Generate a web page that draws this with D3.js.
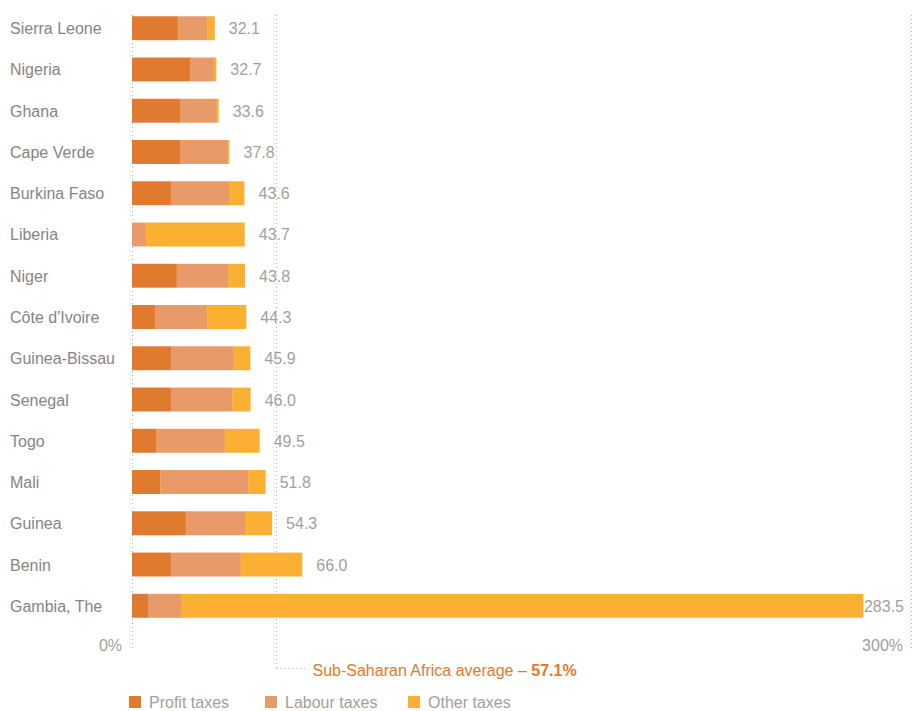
<!DOCTYPE html>
<html>
<head>
<meta charset="utf-8">
<script src="https://cdn.jsdelivr.net/npm/d3@7"></script>
<style>
  body { margin: 0; background: #fff; }
  text { font-family: "Liberation Sans", Arial, sans-serif; }
</style>
</head>
<body>
<svg id="chart" width="914" height="711"></svg>
<script>
const countries = ["Sierra Leone","Nigeria","Ghana","Cape Verde","Burkina Faso","Liberia","Niger","Côte d'Ivoire","Guinea-Bissau","Senegal","Togo","Mali","Guinea","Benin","Gambia, The"];
const profitTaxes = [17.8, 22.5, 18.6, 18.6, 15.1, 0.0, 17.4, 8.9, 15.1, 15.1, 9.3, 10.9, 20.9, 15.1, 6.2];
const labourTaxes = [11.3, 9.3, 14.3, 18.7, 22.5, 5.4, 19.8, 20.2, 24.4, 23.7, 26.7, 34.1, 22.9, 27.1, 12.8];
const otherTaxes  = [3.0, 0.9, 0.7, 0.5, 6.0, 38.3, 6.6, 15.2, 6.4, 7.2, 13.5, 6.8, 10.5, 23.8, 264.5];
const totals      = [32.1, 32.7, 33.6, 37.8, 43.6, 43.7, 43.8, 44.3, 45.9, 46.0, 49.5, 51.8, 54.3, 66.0, 283.5];
const seriesNames = ["Profit taxes", "Labour taxes", "Other taxes"];
const tickValues = [0, 300];
const tickLabels = ["0%", "300%"];
const averageValue = 57.1;
const averageLabel = "Sub-Saharan Africa average – ";
const averageLabelBold = "57.1%";

const colors = ["#e07a2e", "#e89b68", "#fbb034"];
const svg = d3.select("#chart");
const fs = 16;

const x = d3.scaleLinear().domain([0, 300]).range([132, 906]);
const y = d3.scaleBand().domain(countries).range([8, 626]).paddingInner(0.42).paddingOuter(0.2);

const rows = countries.map((c, i) => ({country: c, p: profitTaxes[i], l: labourTaxes[i], o: otherTaxes[i], total: totals[i]}));
const stacked = d3.stack().keys(["p", "l", "o"])(rows);

const dotted = "1,3";
const gridColor = "#b5b0ac";
const avgX = Math.round(x(averageValue)) - 2.5;

// gridlines
svg.append("line").attr("x1", x(0) + 0.5).attr("x2", x(0) + 0.5).attr("y1", 15).attr("y2", 651)
  .attr("stroke", gridColor).attr("stroke-dasharray", dotted);
svg.append("line").attr("x1", x(300) + 5.5).attr("x2", x(300) + 5.5).attr("y1", 15).attr("y2", 651)
  .attr("stroke", gridColor).attr("stroke-dasharray", dotted);
svg.append("line").attr("x1", avgX).attr("x2", avgX).attr("y1", 15).attr("y2", 668)
  .attr("stroke", gridColor).attr("stroke-dasharray", dotted);
svg.append("line").attr("x1", avgX).attr("x2", avgX + 32).attr("y1", 668.5).attr("y2", 668.5)
  .attr("stroke", gridColor).attr("stroke-dasharray", dotted);

// bars
svg.append("g").selectAll("g").data(stacked).join("g")
  .attr("fill", (d, i) => colors[i])
  .selectAll("rect").data(d => d).join("rect")
  .attr("x", d => x(d[0]))
  .attr("width", d => Math.max(0, x(d[1]) - x(d[0])))
  .attr("y", d => y(d.data.country))
  .attr("height", y.bandwidth());

// country labels
svg.append("g").selectAll("text").data(rows).join("text")
  .attr("x", 10)
  .attr("y", d => y(d.country) + y.bandwidth() / 2 + 6)
  .attr("fill", "#8a8480")
  .attr("font-size", fs)
  .text(d => d.country);

// value labels
svg.append("g").selectAll("text").data(rows).join("text")
  .attr("y", d => y(d.country) + y.bandwidth() / 2 + 6)
  .attr("fill", "#a59e99")
  .attr("font-size", fs)
  .text(d => d.total.toFixed(1))
  .attr("x", function(d) {
    const w = this.getComputedTextLength();
    return Math.min(x(d.total) + 14, 904 - w);
  });

// axis tick labels
svg.append("g").selectAll("text").data(tickValues).join("text")
  .attr("x", (d, i) => i === 0 ? x(d) - 10 : x(d) - 3)
  .attr("y", 651)
  .attr("text-anchor", "end")
  .attr("fill", "#a59e99")
  .attr("font-size", fs)
  .text((d, i) => tickLabels[i]);

// average label
const avgText = svg.append("text")
  .attr("x", avgX + 36)
  .attr("y", 676)
  .attr("fill", "#e07a2e")
  .attr("font-size", fs);
avgText.append("tspan").text(averageLabel);
avgText.append("tspan").attr("font-weight", "bold").text(averageLabelBold);

// legend
const legendX = [129, 265, 408];
const legend = svg.append("g").selectAll("g").data(seriesNames).join("g")
  .attr("transform", (d, i) => `translate(${legendX[i]},696)`);
legend.append("rect").attr("width", 12).attr("height", 12).attr("fill", (d, i) => colors[i]);
legend.append("text").attr("x", 20).attr("y", 11.5).attr("fill", "#a59e99").attr("font-size", fs).text(d => d);
</script>
</body>
</html>
